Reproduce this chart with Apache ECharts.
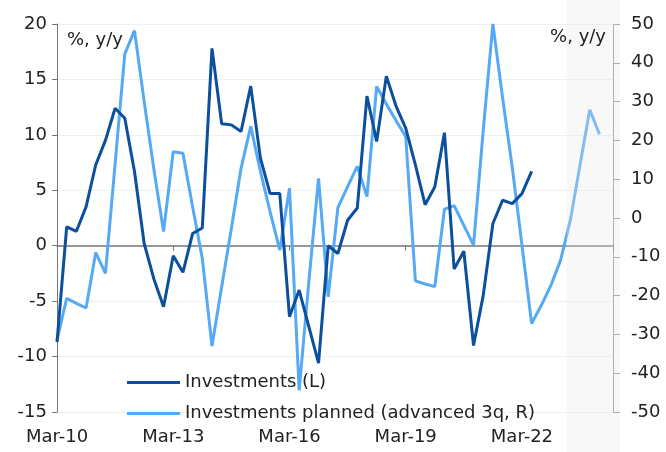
<!DOCTYPE html>
<html>
<head>
<meta charset="utf-8">
<script src="https://cdn.jsdelivr.net/npm/echarts@6/dist/echarts.min.js"></script>
<style>
  html, body { margin: 0; padding: 0; background: #fff; }
  #chart { width: 666px; height: 452px; }
</style>
</head>
<body>
<div id="chart"></div>
<script>
// quarterly, index 0 = Mar-10
var xTickLabels = ["Mar-10", "Mar-13", "Mar-16", "Mar-19", "Mar-22"];
var forecastStart = 52.6; // shaded part starts here (quarter index)

// Investments (L), % y/y
var investments = [
  -8.7, 1.7, 1.3, 3.5, 7.3, 9.5, 12.4, 11.5, 6.7, 0.2,
  -3.0, -5.5, -0.9, -2.4, 1.1, 1.6, 17.8, 11.0, 10.9, 10.3,
  14.4, 7.9, 4.7, 4.7, -6.4, -4.0, -7.3, -10.6, 0.0, -0.7,
  2.3, 3.4, 13.5, 9.4, 15.3, 12.6, 10.6, 7.3, 3.7, 5.3,
  10.2, -2.1, -0.5, -9.0, -4.5, 2.0, 4.1, 3.8, 4.7, 6.7
];

// Investments planned (advanced 3q, R), % y/y
var planned = [
  -31.5, -20.7, -22.0, -23.2, -8.9, -14.3, 14.0, 42.3, 48.3, 30.0,
  12.6, -3.5, 17.1, 16.7, 2.9, -10.4, -33.0, -17.7, -2.7, 12.8,
  23.6, 12.0, 1.6, -8.3, 7.7, -44.4, -16.4, 10.2, -20.3, 2.7,
  8.1, 13.3, 5.5, 33.9, 29.4, 25.1, 21.0, -16.2, -17.0, -17.7,
  2.3, 3.2, -1.9, -7.0, 22.5, 50.0, 31.0, 13.0, -7.0, -27.2,
  -22.5, -17.3, -10.8, -0.5, 13.7, 27.9, 21.6
];

function toPairs(arr) {
  return arr.map(function (v, i) { return [i, v]; });
}

var font = "DejaVu Sans";
var chart = echarts.init(document.getElementById("chart"));

chart.setOption({
  animation: false,
  textStyle: { fontFamily: font },
  grid: { left: 57, right: 53, top: 24, bottom: 40 },
  legend: {
    orient: "vertical",
    left: 122,
    top: 368,
    icon: "rect",
    itemWidth: 53,
    itemHeight: 3,
    itemGap: 12,
    textStyle: { fontSize: 18, lineHeight: 19, color: "#222", fontFamily: font },
    data: ["Investments (L)", "Investments planned (advanced 3q, R)"]
  },
  xAxis: [
    {
      type: "value",
      min: 0,
      max: 57.4,
      interval: 12,
      position: "bottom",
      axisLine: { show: false },
      axisTick: { show: false },
      splitLine: { show: false },
      axisLabel: {
        fontSize: 18,
        color: "#222",
        margin: 16,
        showMaxLabel: false,
        formatter: function (v) { return xTickLabels[Math.round(v / 12)] || ""; }
      }
    },
    {
      type: "value",
      min: 0,
      max: 57.4,
      interval: 12,
      position: "bottom",
      axisLine: { show: true, onZero: true, onZeroAxisIndex: 0, lineStyle: { color: "#777", width: 1.5 } },
      axisTick: { show: true, length: 5, lineStyle: { color: "#777" } },
      axisLabel: { show: false },
      splitLine: { show: false }
    }
  ],
  yAxis: [
    {
      type: "value",
      min: -15,
      max: 20,
      interval: 5,
      axisLine: { show: true, onZero: false, lineStyle: { color: "#777" } },
      axisTick: { show: true, length: 5, lineStyle: { color: "#777" } },
      axisLabel: { fontSize: 18, color: "#222", margin: 10 },
      splitLine: { show: true, lineStyle: { color: "#f0f0f0", width: 1 } }
    },
    {
      type: "value",
      min: -50,
      max: 50,
      interval: 10,
      position: "right",
      axisLine: { show: true, onZero: false, lineStyle: { color: "#999" } },
      axisTick: { show: true, length: 7, lineStyle: { color: "#999" } },
      axisLabel: { fontSize: 18, color: "#222", margin: 18 },
      splitLine: { show: false }
    }
  ],
  series: [
    {
      name: "Investments (L)",
      type: "line",
      xAxisIndex: 0,
      yAxisIndex: 0,
      symbol: "none",
      color: "#0c4f9c",
      lineStyle: { width: 3, color: "#0c4f9c" },
      data: toPairs(investments),
      z: 3
    },
    {
      name: "Investments planned (advanced 3q, R)",
      type: "line",
      xAxisIndex: 0,
      yAxisIndex: 1,
      symbol: "none",
      color: "#56a9f4",
      lineStyle: { width: 3, color: "#56a9f4" },
      data: toPairs(planned),
      z: 2
    }
  ]
});

// forecast shading, placed from the axis scale
var x0 = chart.convertToPixel({ xAxisIndex: 0 }, forecastStart);
var xEnd = chart.getWidth() - 53 + 7;
chart.setOption({
  graphic: [
    {
      type: "rect",
      z: 100,
      silent: true,
      shape: { x: x0, y: 0, width: xEnd - x0, height: chart.getHeight() },
      style: { fill: "rgba(232,232,232,0.3)" }
    },
    {
      type: "text",
      z: 101,
      left: 67,
      top: 31,
      style: { text: "%, y/y", fontSize: 18, fill: "#222", fontFamily: font }
    },
    {
      type: "text",
      z: 101,
      right: 60,
      top: 28,
      style: { text: "%, y/y", fontSize: 18, fill: "#222", fontFamily: font }
    }
  ]
});
</script>
</body>
</html>
